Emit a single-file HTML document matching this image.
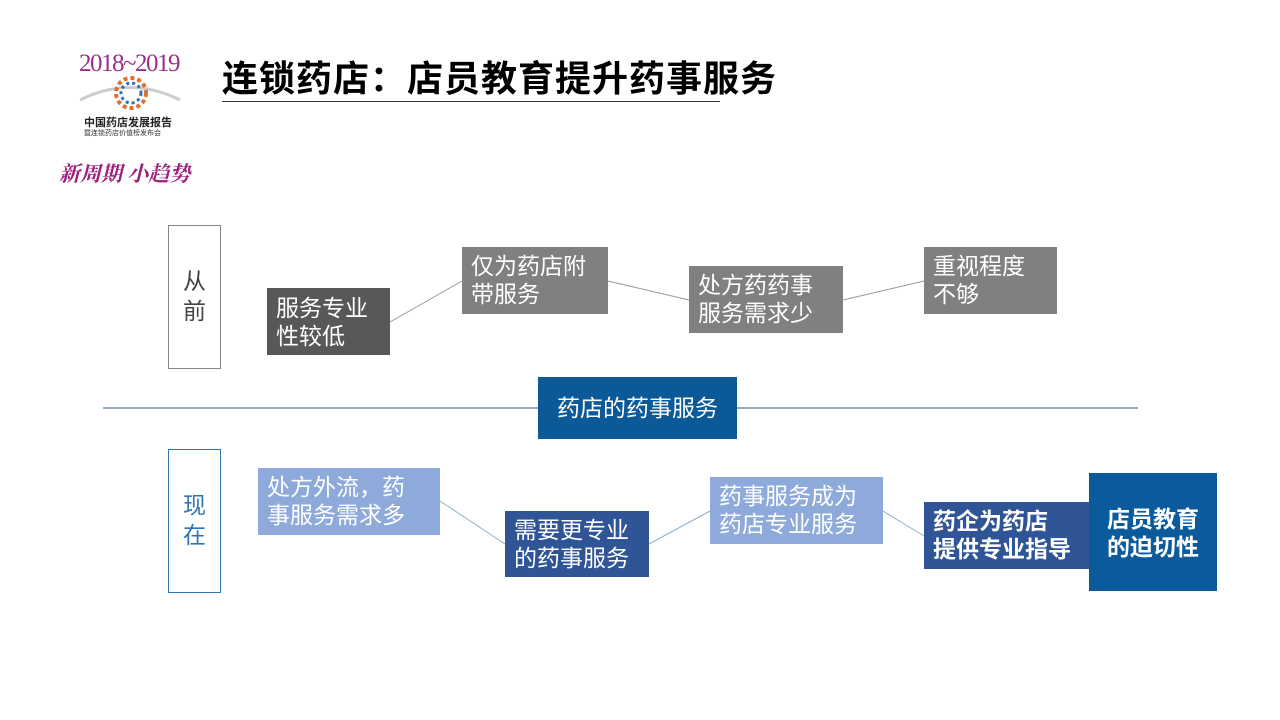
<!DOCTYPE html>
<html><head><meta charset="utf-8"><style>
body{margin:0;width:1280px;height:720px;background:#fff;position:relative;overflow:hidden;font-family:"Liberation Sans","Noto Sans CJK SC",sans-serif}
.b{position:absolute;color:#fff;font-size:23px;line-height:28px;box-sizing:border-box;padding:5px 9px}
.l{position:absolute;box-sizing:border-box;font-size:23px;line-height:30px;text-align:center;padding-top:40px}
</style></head><body>
<div style="position:absolute;left:79px;top:50px;font-family:'Liberation Serif',serif;font-size:25px;color:#9b2f8e;letter-spacing:-1.5px">2018~2019</div>
<svg style="position:absolute;left:70px;top:60px" width="120" height="60"><path d="M10 40 Q60 15 110 40" stroke="#ccc" stroke-width="3" fill="none"/><circle cx="61" cy="33" r="15" fill="none" stroke="#e07030" stroke-width="4" stroke-dasharray="4 3"/><circle cx="61" cy="33" r="10" fill="none" stroke="#3070c0" stroke-width="3" stroke-dasharray="3 3"/></svg>
<div style="position:absolute;left:84px;top:114px;font-size:11px;font-weight:bold;color:#222">中国药店发展报告</div>
<div style="position:absolute;left:84px;top:128px;font-size:7px;color:#333">暨连锁药店价值榜发布会</div>
<div style="position:absolute;left:59px;top:158px;font-size:21px;color:#9b2080;font-family:'Noto Serif CJK SC',serif;font-style:italic;font-weight:bold">新周期 小趋势</div>
<div style="position:absolute;left:222px;top:50px;font-size:36px;font-weight:bold;color:#000;letter-spacing:1px;white-space:nowrap">连锁药店：店员教育提升药事服务</div>
<div style="position:absolute;left:222px;top:101px;width:498px;height:1px;background:#333"></div>

<svg style="position:absolute;left:0;top:0" width="1280" height="720">
<g stroke="#999" stroke-width="1">
<line x1="390" y1="322" x2="462" y2="281"/><line x1="608" y1="281" x2="689" y2="300"/><line x1="843" y1="300" x2="924" y2="281"/></g>
<g stroke="#8fb0c8" stroke-width="1">
<line x1="440" y1="501" x2="505" y2="544"/><line x1="649" y1="544" x2="710" y2="511"/><line x1="883" y1="511" x2="924" y2="536"/></g>
<line x1="103" y1="408" x2="1138" y2="408" stroke="#1f5a8a" stroke-width="1"/>
</svg>

<div class="l" style="left:168px;top:225px;width:53px;height:144px;border:1px solid #888;color:#444">从<br>前</div>
<div class="l" style="left:168px;top:449px;width:53px;height:144px;border:1px solid #2e75b6;color:#2e75b6">现<br>在</div>

<div class="b" style="left:267px;top:288px;width:123px;height:67px;background:#585858;padding-top:6px">服务专业<br>性较低</div>
<div class="b" style="left:462px;top:247px;width:146px;height:67px;background:#808080">仅为药店附<br>带服务</div>
<div class="b" style="left:689px;top:266px;width:154px;height:67px;background:#808080">处方药药事<br>服务需求少</div>
<div class="b" style="left:924px;top:247px;width:133px;height:67px;background:#808080">重视程度<br>不够</div>

<div class="b" style="left:538px;top:377px;width:199px;height:62px;background:#0b5a97;text-align:center;padding-top:17px">药店的药事服务</div>

<div class="b" style="left:258px;top:468px;width:182px;height:67px;background:#8eaadb">处方外流，药<br>事服务需求多</div>
<div class="b" style="left:505px;top:511px;width:144px;height:66px;background:#2f5597">需要更专业<br>的药事服务</div>
<div class="b" style="left:710px;top:477px;width:173px;height:67px;background:#8eaadb">药事服务成为<br>药店专业服务</div>
<div class="b" style="left:924px;top:502px;width:166px;height:67px;background:#2f5597;font-weight:bold">药企为药店<br>提供专业指导</div>
<div class="b" style="left:1089px;top:473px;width:128px;height:118px;background:#0b5a9c;font-weight:bold;text-align:center;padding-top:32px">店员教育<br>的迫切性</div>
</body></html>
